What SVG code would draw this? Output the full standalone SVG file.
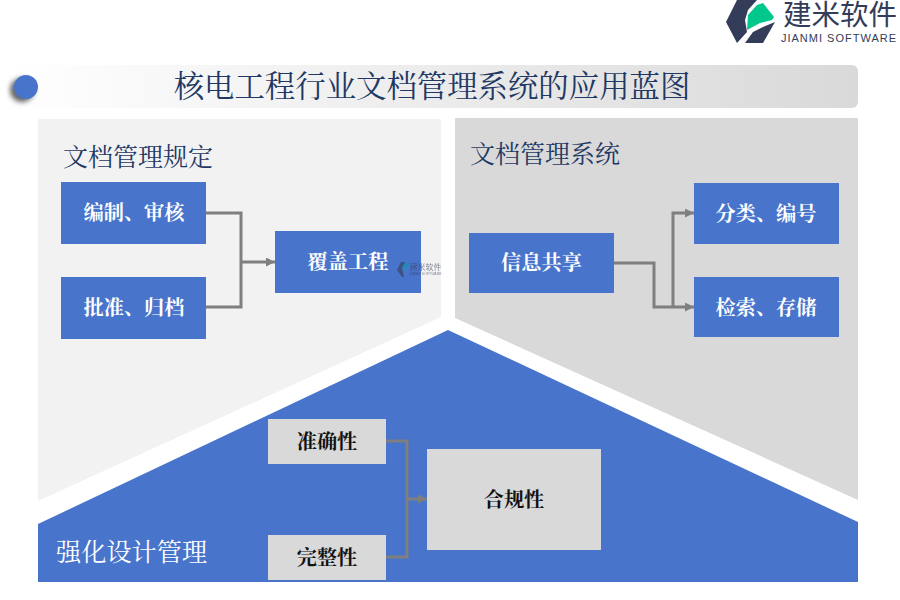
<svg xmlns="http://www.w3.org/2000/svg" width="900" height="600" viewBox="0 0 900 600">
<style>
text{font-family:"Noto Serif CJK SC","Liberation Serif","Noto Sans CJK SC",serif;text-anchor:middle}
.w{fill:#fff;font-size:20.2px;font-weight:700}
.k{fill:#111;font-size:20.2px;font-weight:700}
.h{fill:#1f3864;font-size:25px;text-anchor:start}
.c{fill:none;stroke:#7f7f7f;stroke-width:3}
.b{fill:#4874cb}
.l{font-family:"Noto Sans CJK SC",sans-serif;fill:#333c58}
</style>
<defs>
<marker id="a" markerWidth="10" markerHeight="10" refX="9" refY="4.5" orient="auto" markerUnits="userSpaceOnUse"><path d="M0 0L9 4.5L0 9Z" fill="#7f7f7f"/></marker>
<linearGradient id="g"><stop offset="0" stop-color="#fff"/><stop offset="1" stop-color="#d9d9d9"/></linearGradient>
<filter id="s" x="-50%" y="-50%" width="200%" height="200%"><feGaussianBlur stdDeviation="2.5"/></filter>
</defs>
<rect width="900" height="600" fill="#fff"/>
<g id="logo">
<path d="M737 0H757L748 10L745 20L747 32L737 43L726 22Z" fill="#333c58"/>
<path d="M745 43L753 32L763 27L775 22L763 43Z" fill="#333c58"/>
<path d="M747 30L748 15L757 5L763 3L774 17L772 20L760 23Z" fill="#00c78c"/>
<text x="840" y="25" font-size="28.500" class="l">建米软件</text>
<text x="839" y="42" font-size="11" letter-spacing="1" class="l" style="font-family:'Liberation Sans',sans-serif">JIANMI SOFTWARE</text>
</g>
<g id="title">
<rect x="5" y="65" width="853" height="43" rx="6" fill="url(#g)"/>
<circle cx="22" cy="90" r="12" fill="#333" opacity="0.75" filter="url(#s)"/>
<circle cx="26" cy="87" r="12" class="b"/>
<text x="432" y="97" font-size="30.400" fill="#1f3864">核电工程行业文档管理系统的应用蓝图</text>
</g>
<g id="panel-left">
<path d="M38 119H441V317L38 501Z" fill="#f2f2f2"/>
<text x="63" y="166" class="h">文档管理规定</text>
</g>
<g id="panel-right">
<path d="M455 118H858V500L455 318Z" fill="#d9d9d9"/>
<text x="470" y="163" class="h">文档管理系统</text>
</g>
<g id="panel-bottom">
<path d="M448 330L858 522V582H38V524Z" class="b"/>
<text x="56" y="561" font-size="25.200" fill="#fff" style="text-anchor:start">强化设计管理</text>
</g>
<g id="connectors">
<path class="c" d="M206 213H241V307H206"/>
<path class="c" d="M241 262H275" marker-end="url(#a)"/>
<path class="c" d="M614 263H654V307H694" marker-end="url(#a)"/>
<path class="c" d="M673 307V213H694" marker-end="url(#a)"/>
<path class="c" d="M386 441H407V557H386"/>
<path class="c" d="M407 499H427" marker-end="url(#a)"/>
</g>
<g id="n1"><rect x="61" y="182" width="145" height="62" class="b"/><text x="134" y="220" class="w">编制、审核</text></g>
<g id="n2"><rect x="61" y="277" width="145" height="62" class="b"/><text x="134" y="315" class="w">批准、归档</text></g>
<g id="n3"><rect x="275" y="231" width="146" height="62" class="b"/><text x="348" y="269" class="w">覆盖工程</text></g>
<g id="n4"><rect x="469" y="233" width="145" height="60" class="b"/><text x="541.500" y="270" class="w">信息共享</text></g>
<g id="n5"><rect x="694" y="183" width="145" height="61" class="b"/><text x="766" y="221" class="w">分类、编号</text></g>
<g id="n6"><rect x="694" y="277" width="145" height="60" class="b"/><text x="766" y="315" class="w">检索、存储</text></g>
<g id="n7"><rect x="268" y="419" width="118" height="45" fill="#d9d9d9"/><text x="327" y="449" class="k">准确性</text></g>
<g id="n8"><rect x="268" y="535" width="118" height="45" fill="#d9d9d9"/><text x="327" y="565" class="k">完整性</text></g>
<g id="n9"><rect x="427" y="449" width="174" height="101" fill="#d9d9d9"/><text x="514" y="507" class="k">合规性</text></g>
<g id="watermark" opacity="0.6">
<path d="M401 262H405L402 268L404 277H402L397 270Z" fill="#333c58"/>
<path d="M403 269C403 265 405 263 407 262L409 266C407 267 405 268 403 272Z" fill="#00a0a0"/>
<text x="425.500" y="270" font-size="8" class="l">建米软件</text>
<text x="425.500" y="275" font-size="3.500" class="l" style="font-family:'Liberation Sans',sans-serif">JIANMI SOFTWARE</text>
</g>
</svg>
